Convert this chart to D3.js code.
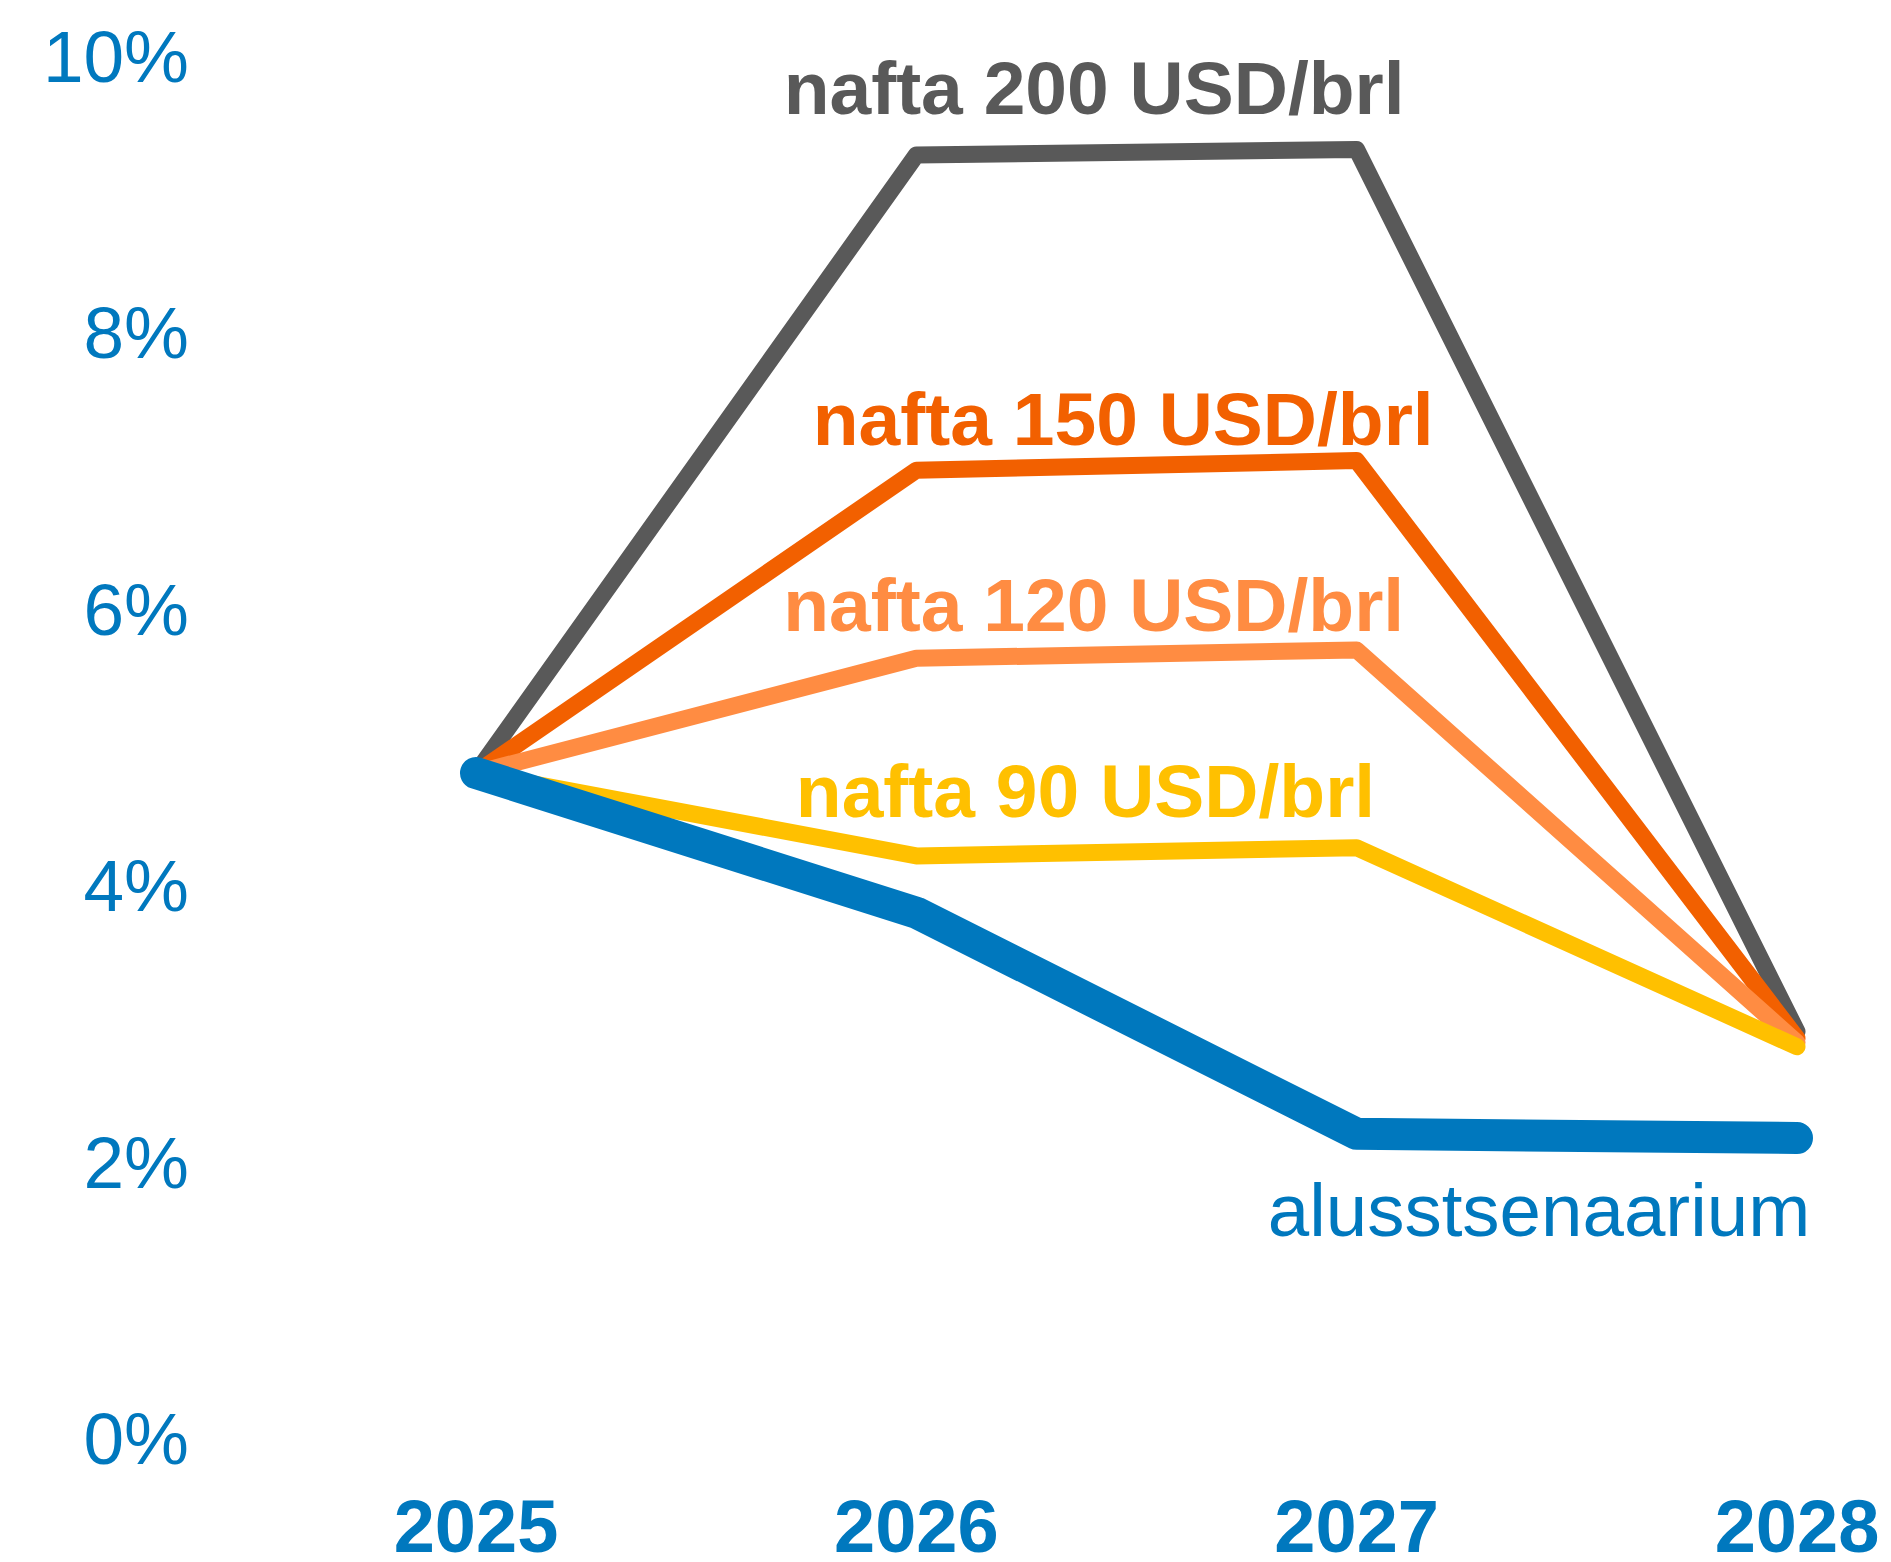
<!DOCTYPE html>
<html>
<head>
<meta charset="utf-8">
<script src="https://cdn.jsdelivr.net/npm/d3@7"></script>
<style>
  body { margin: 0; background: #fff; }
  svg text { font-family: "Liberation Sans", Arial, sans-serif; }
</style>
</head>
<body>
<svg id="chart" width="1891" height="1562"></svg>
<script>
// inflation scenarios by oil price
var years = [2025, 2026, 2027, 2028];
var yTicks = [0, 2, 4, 6, 8, 10];

var nafta200 = [4.81, 9.28, 9.32, 2.94];
var nafta150 = [4.81, 7.00, 7.07, 2.89];
var nafta120 = [4.81, 5.64, 5.70, 2.86];
var nafta90  = [4.81, 4.21, 4.27, 2.83];
var baseline = [4.81, 3.80, 2.20, 2.17];

var seriesNames = ["nafta 200 USD/brl", "nafta 150 USD/brl", "nafta 120 USD/brl", "nafta 90 USD/brl", "alusstsenaarium"];
var seriesValues = [nafta200, nafta150, nafta120, nafta90, baseline];
// where each series label sits, in data units (year, value) - right end of the text
var labelYears  = [2027.109, 2027.175, 2027.108, 2027.042, 2028.03];
var labelValues = [9.58, 7.18, 5.84, 4.49, 1.46];

var colors = ["#595959", "#F26000", "#FF8C42", "#FFC000", "#0078BE"];
var widths = [17, 17, 17, 17, 32];
var bold   = [true, true, true, true, false];

var svg = d3.select("#chart");

var x = d3.scaleLinear().domain([2025, 2028]).range([476, 1797]);
var y = d3.scaleLinear().domain([0, 10]).range([1438, 55.5]);

var line = d3.line()
  .x(function(d, i) { return x(years[i]); })
  .y(function(d) { return y(d); });

// y axis labels
svg.append("g")
  .selectAll("text")
  .data(yTicks)
  .enter().append("text")
  .attr("x", 189)
  .attr("y", d => y(d))
  .attr("dy", "0.36em")
  .attr("text-anchor", "end")
  .attr("font-size", 73)
  .attr("fill", "#0078BE")
  .text(d => d + "%");

// x axis labels
svg.append("g")
  .selectAll("text")
  .data(years)
  .enter().append("text")
  .attr("x", d => x(d))
  .attr("y", 1552)
  .attr("text-anchor", "middle")
  .attr("font-size", 74)
  .attr("font-weight", "bold")
  .attr("fill", "#0078BE")
  .text(d => d);

// lines, baseline drawn last so it sits on top
svg.append("g")
  .selectAll("path")
  .data(seriesValues)
  .enter().append("path")
  .attr("d", d => line(d))
  .attr("fill", "none")
  .attr("stroke", (d, i) => colors[i])
  .attr("stroke-width", (d, i) => widths[i])
  .attr("stroke-linecap", "round")
  .attr("stroke-linejoin", "round");

// series labels
svg.append("g")
  .selectAll("text")
  .data(seriesNames)
  .enter().append("text")
  .attr("x", (d, i) => x(labelYears[i]))
  .attr("y", (d, i) => y(labelValues[i]))
  .attr("text-anchor", "end")
  .attr("font-size", (d, i) => bold[i] ? 75 : 74.5)
  .attr("font-weight", (d, i) => bold[i] ? "bold" : "normal")
  .attr("fill", (d, i) => colors[i])
  .text(d => d);
</script>
</body>
</html>
